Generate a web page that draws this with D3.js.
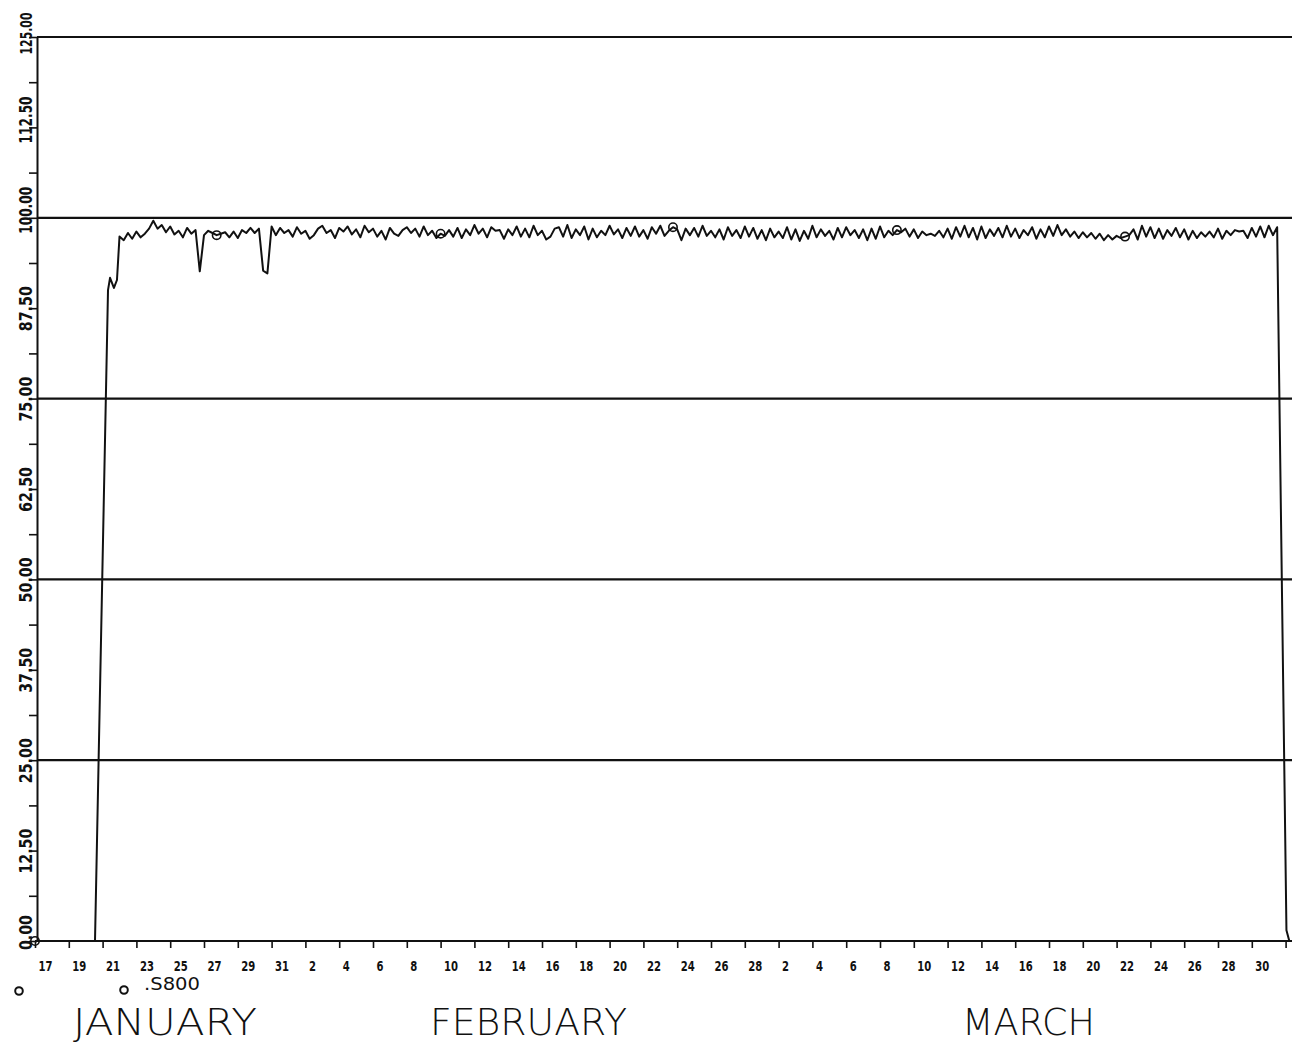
<!DOCTYPE html>
<html><head><meta charset="utf-8">
<script src="https://cdn.jsdelivr.net/npm/d3@7"></script>
<style>body{margin:0;background:#fff}svg{display:block}</style>
</head><body>
<svg id="c" width="1292" height="1044"></svg>
<script>
// ---------------- DATA ----------------
const seriesLabel = ".S800";
const months = ["JANUARY", "FEBRUARY", "MARCH"];
const xTickLabels = ["17","19","21","23","25","27","29","31",
  "2","4","6","8","10","12","14","16","18","20","22","24","26","28",
  "2","4","6","8","10","12","14","16","18","20","22","24","26","28","30"];
const yTickLabels = ["0.00","12.50","25.00","37.50","50.00","62.50","75.00","87.50","100.00","112.50","125.00"];
const gridValues = [25, 50, 75, 100, 125];

// days counted from January 17
const riseDays   = [0, 3.55, 4.32, 4.44, 4.67, 4.85];
const riseValues = [0, 0, 90.0, 91.7, 90.3, 91.4];
const noiseStartDay = 5.0, noiseStep = 0.25;
const noiseValues = [
  97.4, 96.9, 97.9, 97.1,  98.1, 97.3, 97.8, 98.5,  99.6, 98.5, 99.0, 98.0,  98.8, 97.7, 98.2, 97.3,
  98.6, 97.8, 98.3, 92.6,  97.6, 98.2, 97.9, 97.6,  97.8, 98.0, 97.3, 98.1,  97.2, 98.3, 97.9, 98.6,
  97.9, 98.5, 92.7, 92.3,  98.8, 97.6, 98.6, 97.9,  98.3, 97.4, 98.7, 97.8,  98.2, 97.1, 97.6, 98.5,
  98.9, 97.9, 98.3, 97.2,  98.6, 98.1, 98.8, 97.7,  98.4, 97.3, 98.9, 98.0,  98.5, 97.4, 98.2, 97.0,
  98.6, 97.8, 97.5, 98.3,  98.7, 97.9, 98.5, 97.4,  98.8, 97.6, 98.2, 97.2,  97.8, 97.5, 98.3, 97.4,
  98.6, 97.2, 98.4, 97.6,  99.0, 97.8, 98.5, 97.3,  98.7, 98.2, 98.3, 97.1,  98.4, 97.6, 98.8, 97.4,
  98.5, 97.3, 98.9, 97.6,  98.2, 97.0, 97.4, 98.5,  98.7, 97.4, 99.0, 97.2,  98.4, 97.6, 98.8, 97.0,
  98.5, 97.3, 98.2, 97.6,  98.9, 97.7, 98.4, 97.2,  98.6, 97.5, 98.8, 97.4,  98.3, 97.1, 98.7, 97.8,
  98.9, 97.5, 98.2, 98.7,  98.4, 96.9, 98.5, 97.6,  98.6, 97.4, 98.9, 97.5,  98.2, 97.3, 98.4, 97.0,
  98.7, 97.5, 98.3, 97.2,  98.8, 97.4, 98.6, 97.1,  98.3, 96.9, 98.5, 97.3,  98.1, 97.2, 98.7, 97.0,
  98.4, 96.8, 98.2, 97.1,  98.9, 97.3, 98.4, 97.5,  98.2, 97.0, 98.6, 97.3,  98.7, 97.6, 98.3, 97.2,
  98.4, 96.9, 98.5, 97.1,  98.8, 97.3, 98.2, 97.6,  98.3, 98.0, 98.5, 97.4,  98.4, 97.2, 98.1, 97.6,
  97.8, 97.5, 98.2, 97.3,  98.5, 97.1, 98.7, 97.4,  98.9, 97.3, 98.6, 97.0,  98.8, 97.2, 98.4, 97.5,
  98.6, 97.3, 98.9, 97.4,  98.5, 97.2, 98.3, 97.6,  98.7, 97.1, 98.4, 97.3,  98.8, 97.5, 99.0, 97.6,
  98.4, 97.4, 98.1, 97.2,  98.0, 97.3, 97.9, 97.1,  97.8, 96.9, 97.6, 97.0,  97.5, 97.2, 97.4, 97.6,
  98.4, 97.0, 98.9, 97.4,  98.7, 97.2, 98.5, 97.1,  98.3, 97.5, 98.6, 97.3,  98.4, 97.0, 98.2, 97.2,
  98.0, 97.4, 98.1, 97.3,  98.5, 97.1, 98.2, 97.6,  98.3, 98.1, 98.2, 97.2,  98.6, 97.4, 98.8, 97.3,
  98.9, 97.6, 98.7
];
const fallDays   = [74.05, 74.22];
const fallValues = [1.5, 0];
const markerDays = [0, 10.75, 24.0, 37.75, 51.0, 64.5];

// ---------------- LAYOUT ----------------
const W = 1292, H = 1044;
const X0 = 35, PX_PER_DAY = 16.9;
const x = d3.scaleLinear().domain([0, 74]).range([X0, X0 + 74 * PX_PER_DAY]);
const y = d3.scaleLinear().domain([0, 125]).range([941, 37]);
const svg = d3.select("#c");
const ink = "#111";

const series = [];
riseDays.forEach((d, i) => series.push({day: d, value: riseValues[i]}));
noiseValues.forEach((v, i) => series.push({day: noiseStartDay + i * noiseStep, value: v}));
fallDays.forEach((d, i) => series.push({day: d, value: fallValues[i]}));

// grid lines
svg.append("g").selectAll("line").data(gridValues).join("line")
  .attr("x1", 37).attr("x2", W).attr("y1", d => y(d)).attr("y2", d => y(d))
  .attr("stroke", ink).attr("stroke-width", 2.2);

// y axis
const yTicks = d3.range(0, 125.001, 6.25);
const yAxis = d3.axisLeft(y).tickValues(yTicks).tickSize(8).tickSizeOuter(0)
  .tickFormat(d => (Math.abs(d / 12.5 - Math.round(d / 12.5)) < 1e-6) ? yTickLabels[Math.round(d / 12.5)] : "");
const gy = svg.append("g").attr("transform", "translate(37,0)").call(yAxis);
gy.select(".domain").attr("stroke", ink).attr("stroke-width", 2);
gy.selectAll(".tick line").attr("stroke", ink).attr("stroke-width", 1.6);
gy.selectAll(".tick text")
  .attr("x", null).attr("dy", null).attr("text-anchor", "middle")
  .attr("font-family", "DejaVu Sans").attr("font-weight", "bold").attr("font-size", 18).attr("fill", ink)
  .each(function(d) {
    const t = d3.select(this), s = t.text();
    if (!s) return;
    let len = s.length >= 6 ? 47 : (s.length === 4 ? 35 : 45);
    let off = s.length >= 6 ? -8 : (s.length === 4 ? -9 : 0);
    const top = y(d) + off - len / 2;
    if (top < 12) {
      len = 42; off = 33 - y(d);
      t.attr("font-size", 15);
    }
    t.attr("textLength", len).attr("lengthAdjust", "spacingAndGlyphs")
     .attr("transform", `translate(-5,${off}) rotate(-90)`);
  });

// x axis
const xTickDays = d3.range(0, 74.001, 2);
const xAxis = d3.axisBottom(x).tickValues(xTickDays).tickSize(7).tickSizeOuter(0)
  .tickFormat((d, i) => xTickLabels[i] || "");
const gx = svg.append("g").attr("transform", "translate(0,941)").call(xAxis);
gx.select(".domain").remove();
gx.selectAll(".tick line").attr("stroke", ink).attr("stroke-width", 1.6);
gx.selectAll(".tick text")
  .attr("y", 30).attr("dy", null).attr("x", 3).attr("text-anchor", "start")
  .attr("font-family", "DejaVu Sans").attr("font-weight", "bold").attr("font-size", 14).attr("fill", ink)
  .each(function() {
    const t = d3.select(this), s = t.text();
    if (s) t.attr("textLength", s.length === 1 ? 7 : 14).attr("lengthAdjust", "spacingAndGlyphs");
  });
svg.append("line").attr("x1", X0).attr("x2", W).attr("y1", y(0)).attr("y2", y(0))
  .attr("stroke", ink).attr("stroke-width", 2.2);

// data line
svg.append("path").datum(series)
  .attr("d", d3.line().x(d => x(d.day)).y(d => y(d.value)))
  .attr("fill", "none").attr("stroke", ink).attr("stroke-width", 2).attr("stroke-linejoin", "round");

// markers
const valueAt = day => {
  let best = series[0];
  series.forEach(p => { if (Math.abs(p.day - day) < Math.abs(best.day - day)) best = p; });
  return best.value;
};
svg.append("g").selectAll("circle").data(markerDays).join("circle")
  .attr("cx", d => x(d)).attr("cy", d => y(valueAt(d))).attr("r", 4.2)
  .attr("fill", "none").attr("stroke", ink).attr("stroke-width", 1.6);

// legend
svg.append("circle").attr("cx", 19).attr("cy", 991).attr("r", 3.8)
  .attr("fill", "none").attr("stroke", ink).attr("stroke-width", 2);
svg.append("circle").attr("cx", 124).attr("cy", 990).attr("r", 3.8)
  .attr("fill", "none").attr("stroke", ink).attr("stroke-width", 2);
svg.append("text").attr("x", 144).attr("y", 990).text(seriesLabel)
  .attr("font-family", "DejaVu Sans").attr("font-size", 18).attr("fill", ink)
  .attr("textLength", 56).attr("lengthAdjust", "spacingAndGlyphs");

// month labels
const monthLayout = [{x: 73, w: 184}, {x: 430, w: 197}, {x: 962, w: 133}];
svg.append("g").selectAll("text").data(months).join("text")
  .attr("x", (d, i) => monthLayout[i].x).attr("y", 1035)
  .attr("font-family", "DejaVu Sans").attr("font-weight", 200).attr("font-size", 37).attr("fill", ink)
  .attr("textLength", (d, i) => monthLayout[i].w).attr("lengthAdjust", "spacingAndGlyphs")
  .text(d => d);
</script>
</body></html>
